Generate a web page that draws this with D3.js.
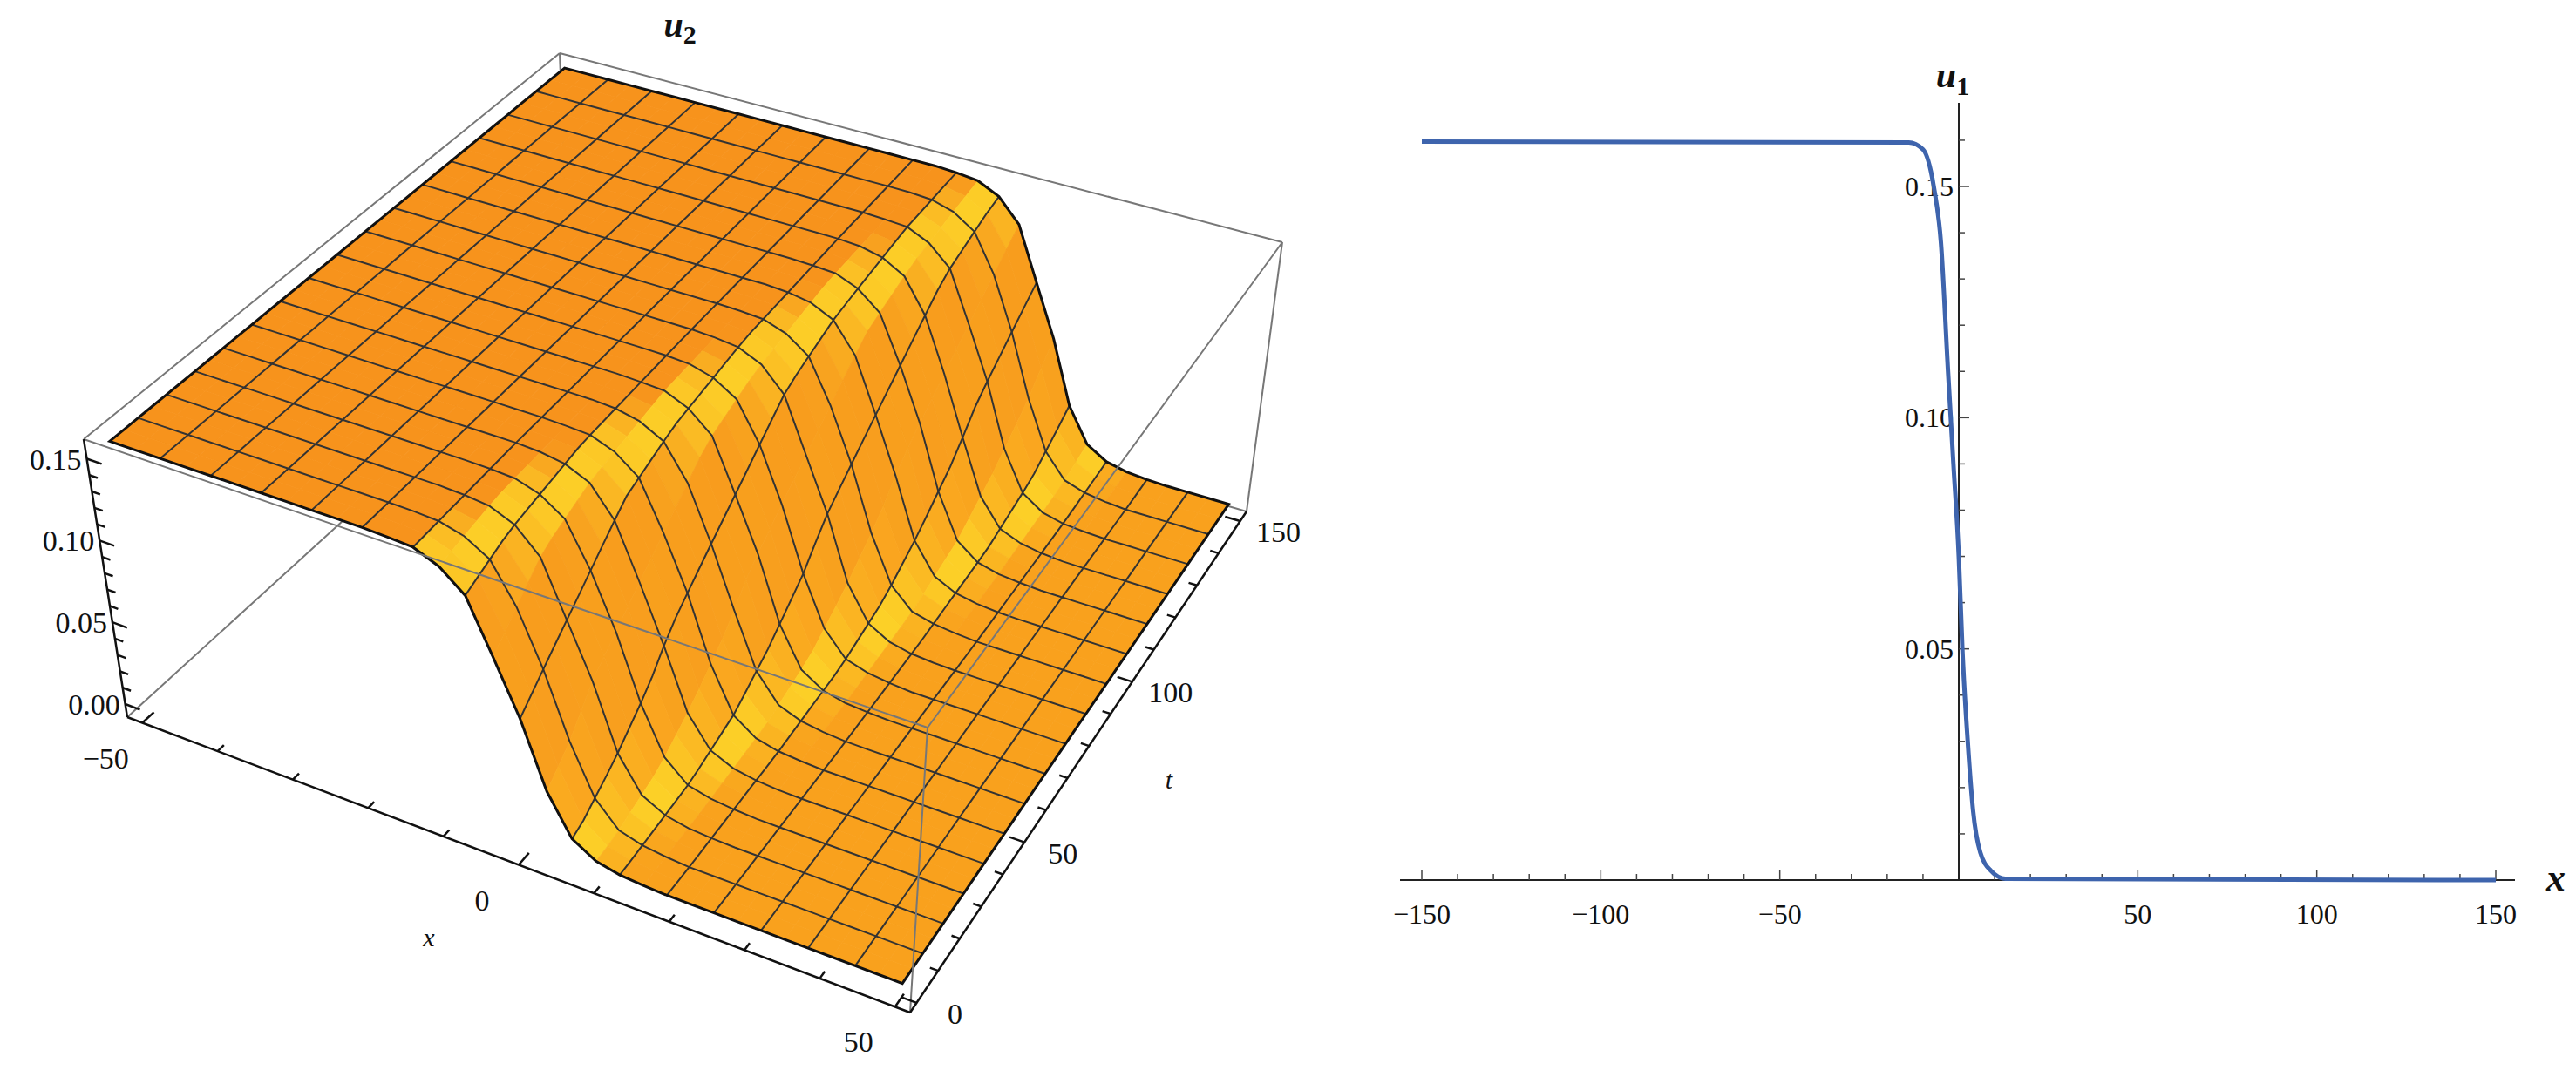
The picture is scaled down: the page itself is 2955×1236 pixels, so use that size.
<!DOCTYPE html>
<html>
<head>
<meta charset="utf-8">
<script src="https://cdn.jsdelivr.net/npm/d3@7"></script>
<style>
  body { margin: 0; background: #fff; }
  svg text { font-family: "Liberation Serif", "DejaVu Serif", serif; fill: #111; }
</style>
</head>
<body>
<svg id="chart" width="2955" height="1236"></svg>
<script>
// step profile u(xi)
var profileXi = [-150, -14, -10, -7, -5, -3, -1.5, 0, 1, 2.5, 4, 6, 9, 13, 150];
var profileU  = [0.1597, 0.1595, 0.158, 0.15, 0.138, 0.11, 0.09, 0.07, 0.05, 0.03, 0.015, 0.006, 0.002, 0.0003, 0];
// front position and width of u2 over time (read at t=0 and t=150 edges)
var shiftT = [0, 150];
var shiftX = [0.5, 22];
var surfWidth = 1.3;
var xTicks3d = [-50, 0, 50];
var tTicks3d = [0, 50, 100, 150];
var zTicks3d = [0.00, 0.05, 0.10, 0.15];
var xTicks2d = [-150, -100, -50, 50, 100, 150];
var yTicks2d = [0.05, 0.10, 0.15];

var svg = d3.select("#chart");
var prof = d3.scaleLinear().domain(profileXi).range(profileU);
var shift = d3.scaleLinear().domain(shiftT).range(shiftX);

// ---------- left: 3D surface ----------
var A = [146, 823], B = [1044, 1162], C = [1430, 587], D = [653, 361];
var A2 = [96, 504], B2 = [1064, 835], C2 = [1471, 278], D2 = [642, 61];
var su = d3.scaleLinear().domain([-52, 52]).range([0, 1]);
var sv = d3.scaleLinear().domain([-3, 153]).range([0, 1]);
var sw = d3.scaleLinear().domain([-0.008, 0.162]).range([0, 1]);

function quad(P, Q, R, S, u, v) {
    var a = [P[0] + (Q[0]-P[0])*u, P[1] + (Q[1]-P[1])*u];
    var b = [S[0] + (R[0]-S[0])*u, S[1] + (R[1]-S[1])*u];
    return [a[0] + (b[0]-a[0])*v, a[1] + (b[1]-a[1])*v];
}
function proj(x, t, z) {
    var u = su(x), v = sv(t), w = sw(z);
    var lo = quad(A, B, C, D, u, v), hi = quad(A2, B2, C2, D2, u, v);
    return [lo[0] + (hi[0]-lo[0])*w, lo[1] + (hi[1]-lo[1])*w];
}
function surf(x, t) { return prof((x - shift(t)) / surfWidth); }

var g3 = svg.append("g");
var boxLine = function(p, q) {
    g3.append("line").attr("x1", p[0]).attr("y1", p[1]).attr("x2", q[0]).attr("y2", q[1])
        .attr("stroke", "#777").attr("stroke-width", 2);
};
// hidden back edges first
boxLine(A, D); boxLine(D, C); boxLine(D, D2);

var N = 32;
var xs = d3.range(N + 1).map(function(i) { return -50 + 100 * i / N; });
var ts = d3.range(N + 1).map(function(j) { return 150 * j / N; });
var cells = [];
for (var i = 0; i < N; i++) for (var j = 0; j < N; j++) {
    var z00 = surf(xs[i], ts[j]), z10 = surf(xs[i+1], ts[j]), z11 = surf(xs[i+1], ts[j+1]), z01 = surf(xs[i], ts[j+1]);
    var slope = Math.abs((z00 + z01 - z10 - z11) / 2) / 0.16 / ((xs[i+1] - xs[i]) / 100);
    cells.push({i: i, j: j, key: (j - i), slope: slope,
        pts: [proj(xs[i], ts[j], z00), proj(xs[i+1], ts[j], z10), proj(xs[i+1], ts[j+1], z11), proj(xs[i], ts[j+1], z01)],
        high: (z00 + z11) / 2});
}
cells.sort(function(a, b) { return b.key - a.key; });
var orangeHi = "#f7931c", orangeLo = "#f9a11d", yellow = "#fdd829";
function cellColor(d) {
    var base = d3.interpolateRgb(orangeLo, orangeHi)(d.high / 0.16);
    var s = d.slope;
    var yv = s < 0.05 ? 0 : Math.exp(-Math.pow(Math.log(s / 1.6), 2) / 0.9);
    return d3.interpolateRgb(base, yellow)(yv * 0.85);
}
g3.selectAll("path.cell").data(cells).enter().append("path")
    .attr("class", "cell")
    .attr("d", function(d) { return "M" + d.pts.join("L") + "Z"; })
    .attr("fill", cellColor)
    .attr("stroke", cellColor)
    .attr("stroke-width", 0.8);

// mesh lines
var line = d3.line();
for (var k = 2; k < N; k += 2) {
    g3.append("path").attr("d", line(ts.map(function(t) { return proj(xs[k], t, surf(xs[k], t)); })))
        .attr("fill", "none").attr("stroke", "#333").attr("stroke-width", 2);
    g3.append("path").attr("d", line(xs.map(function(x) { return proj(x, ts[k], surf(x, ts[k])); })))
        .attr("fill", "none").attr("stroke", "#333").attr("stroke-width", 2);
}
// surface boundary
var edge = [].concat(
    xs.map(function(x) { return proj(x, 0, surf(x, 0)); }),
    ts.map(function(t) { return proj(50, t, surf(50, t)); }),
    xs.slice().reverse().map(function(x) { return proj(x, 150, surf(x, 150)); }),
    ts.slice().reverse().map(function(t) { return proj(-50, t, surf(-50, t)); }));
g3.append("path").attr("d", line(edge) + "Z").attr("fill", "none").attr("stroke", "#111").attr("stroke-width", 3);

// front box edges
boxLine(A2, B2); boxLine(B2, C2); boxLine(B, B2); boxLine(A2, D2); boxLine(D2, C2); boxLine(C2, C);

// axes of the box
function axisLine(p, q) {
    g3.append("line").attr("x1", p[0]).attr("y1", p[1]).attr("x2", q[0]).attr("y2", q[1])
        .attr("stroke", "#111").attr("stroke-width", 2.5);
}
axisLine(A, B); axisLine(B, C); axisLine(A, A2);
function tick(p, q, len) {
    var dx = q[0] - p[0], dy = q[1] - p[1], m = Math.hypot(dx, dy);
    g3.append("line").attr("x1", p[0]).attr("y1", p[1])
        .attr("x2", p[0] + dx / m * len).attr("y2", p[1] + dy / m * len)
        .attr("stroke", "#111").attr("stroke-width", 2.5);
}
var zb = -0.008, tb = -3, xb = 52;
d3.range(-50, 51, 10).forEach(function(x) {
    var major = xTicks3d.indexOf(x) >= 0;
    tick(proj(x, tb, zb), proj(x, 20, zb), major ? 18 : 10);
});
d3.range(0, 151, 10).forEach(function(t) {
    var major = tTicks3d.indexOf(t) >= 0;
    tick(proj(xb, t, zb), proj(30, t, zb), major ? 18 : 10);
});
d3.range(0, 0.1501, 0.01).forEach(function(z) {
    var major = zTicks3d.some(function(v) { return Math.abs(v - z) < 1e-6; });
    tick(proj(-52, tb, z), proj(-30, tb, z), major ? 18 : 10);
});
xTicks3d.forEach(function(x) {
    var p = proj(x, tb, zb);
    g3.append("text").attr("x", p[0] - 42).attr("y", p[1] + 52).attr("text-anchor", "middle")
        .attr("font-size", 34).text(x < 0 ? "\u2212" + Math.abs(x) : x);
});
tTicks3d.forEach(function(t) {
    var p = proj(xb, t, zb);
    g3.append("text").attr("x", p[0] + 44).attr("y", p[1] + 24).attr("text-anchor", "middle")
        .attr("font-size", 34).text(t);
});
zTicks3d.forEach(function(z) {
    var p = proj(-52, tb, z);
    g3.append("text").attr("x", p[0] - 6).attr("y", p[1] + 12).attr("text-anchor", "end")
        .attr("font-size", 34).text(z.toFixed(2));
});
g3.append("text").attr("x", 492).attr("y", 1086).attr("text-anchor", "middle")
    .attr("font-size", 30).attr("font-style", "italic").text("x");
g3.append("text").attr("x", 1341).attr("y", 905).attr("text-anchor", "middle")
    .attr("font-size", 30).attr("font-style", "italic").text("t");
var ttl = g3.append("text").attr("x", 780).attr("y", 42).attr("text-anchor", "middle")
    .attr("font-size", 40).attr("font-style", "italic").attr("font-weight", "bold");
ttl.append("tspan").text("u");
ttl.append("tspan").attr("font-size", 30).attr("dy", 8).attr("font-style", "normal").text("2");

// ---------- right: u1 line plot ----------
var x = d3.scaleLinear().domain([-150, 150]).range([1631, 2863]);
var y = d3.scaleLinear().domain([0, 0.15]).range([1010, 214]);
var g2 = svg.append("g");
g2.append("line").attr("x1", 1606).attr("x2", 2885).attr("y1", y(0)).attr("y2", y(0))
    .attr("stroke", "#222").attr("stroke-width", 2);
g2.append("line").attr("x1", x(0)).attr("x2", x(0)).attr("y1", y(0)).attr("y2", 118)
    .attr("stroke", "#222").attr("stroke-width", 2);
d3.range(-150, 151, 10).forEach(function(v) {
    if (v === 0) return;
    var major = v % 50 === 0;
    g2.append("line").attr("x1", x(v)).attr("x2", x(v)).attr("y1", y(0)).attr("y2", y(0) - (major ? 12 : 7))
        .attr("stroke", "#444").attr("stroke-width", 1.5);
});
d3.range(0.01, 0.1601, 0.01).forEach(function(v) {
    var major = Math.abs(v / 0.05 - Math.round(v / 0.05)) < 1e-6;
    g2.append("line").attr("x1", x(0)).attr("x2", x(0) + (major ? 12 : 7)).attr("y1", y(v)).attr("y2", y(v))
        .attr("stroke", "#444").attr("stroke-width", 1.5);
});
xTicks2d.forEach(function(v) {
    g2.append("text").attr("x", x(v)).attr("y", y(0) + 50).attr("text-anchor", "middle")
        .attr("font-size", 32).text(v < 0 ? "\u2212" + Math.abs(v) : v);
});
yTicks2d.forEach(function(v) {
    g2.append("text").attr("x", x(0) - 6).attr("y", y(v) + 11).attr("text-anchor", "end")
        .attr("font-size", 32).text(v.toFixed(2));
});
var lineData = profileXi.map(function(v, i) { return [v, profileU[i]]; });
g2.append("path").datum(lineData)
    .attr("d", d3.line().x(function(d) { return x(d[0]); }).y(function(d) { return y(d[1]); }).curve(d3.curveMonotoneX))
    .attr("fill", "none").attr("stroke", "#3e64ad").attr("stroke-width", 5);
var ul = g2.append("text").attr("x", 2240).attr("y", 100).attr("text-anchor", "middle")
    .attr("font-size", 42).attr("font-style", "italic").attr("font-weight", "bold");
ul.append("tspan").text("u");
ul.append("tspan").attr("font-size", 30).attr("dy", 9).attr("font-style", "normal").text("1");
g2.append("text").attr("x", 2932).attr("y", 1022).attr("text-anchor", "middle")
    .attr("font-size", 44).attr("font-style", "italic").attr("font-weight", "bold").text("x");
</script>
</body>
</html>
